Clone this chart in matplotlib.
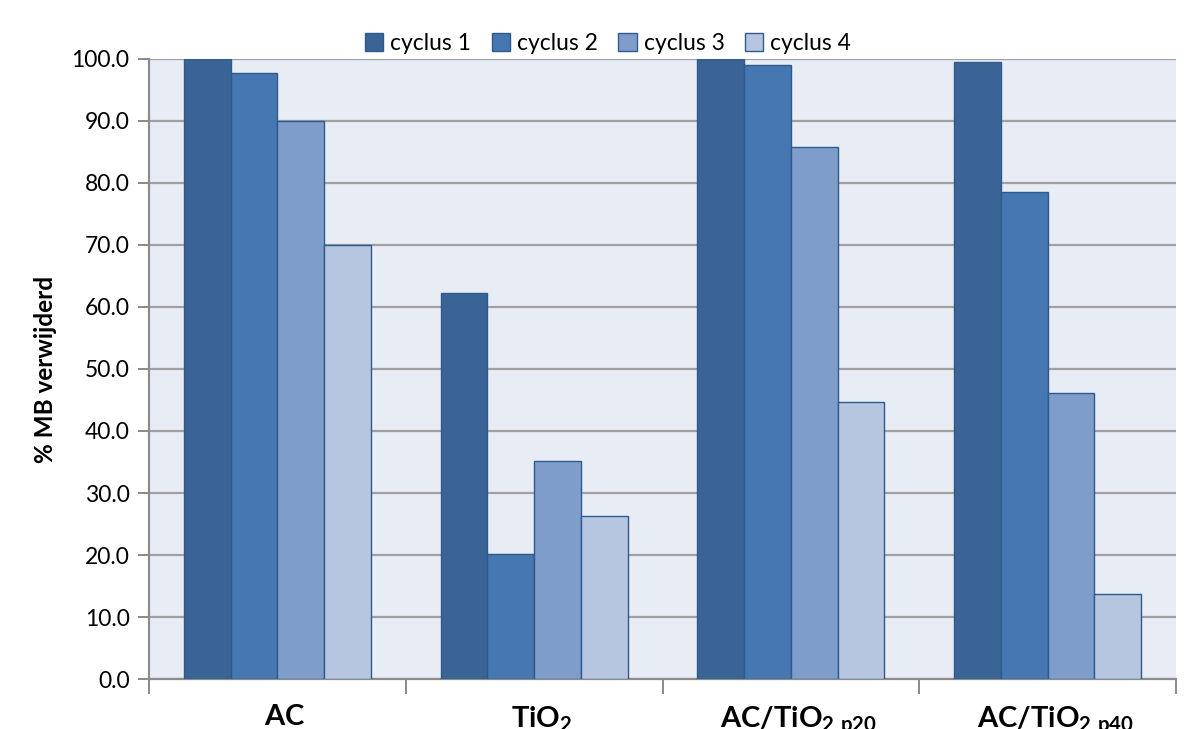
import numpy as np
import matplotlib
matplotlib.use("Agg")
import matplotlib.pyplot as plt

# data
categories = [r"$\mathbf{AC}$", r"$\mathbf{TiO_2}$",
              r"$\mathbf{AC/TiO_{2\ p20}}$", r"$\mathbf{AC/TiO_{2\ p40}}$"]
series_names = ["cyclus 1", "cyclus 2", "cyclus 3", "cyclus 4"]
cyclus1 = [100.0, 62.2, 100.0, 99.5]
cyclus2 = [97.8, 20.1, 99.0, 78.5]
cyclus3 = [90.0, 35.1, 85.8, 46.2]
cyclus4 = [70.0, 26.3, 44.7, 13.7]
yticks = [0, 10, 20, 30, 40, 50, 60, 70, 80, 90, 100]

colors = ["#3B6496", "#4677B1", "#7F9DCA", "#B6C5E0"]

plt.rcParams["font.family"] = ["Lato", "DejaVu Sans"]
plt.rcParams["mathtext.fontset"] = "custom"
plt.rcParams["mathtext.rm"] = "Lato"
plt.rcParams["mathtext.bf"] = "Lato:bold"

fig = plt.figure(figsize=(11.88, 7.29), dpi=100)
ax = fig.add_axes([149 / 1188, 50 / 729, (1176 - 149) / 1188, 620 / 729])
ax.set_facecolor("#E8ECF4")

x = np.arange(len(categories))
w = 0.182
data = [cyclus1, cyclus2, cyclus3, cyclus4]
for i, vals in enumerate(data):
    ax.bar(x + (i - 1.5) * w, vals, w, color=colors[i], edgecolor="#2F5A8E",
           linewidth=1.0, label=series_names[i], zorder=3)

ax.set_xlim(-0.5, len(categories) - 0.5)
ax.set_ylim(0, 100)
ax.set_yticks(yticks)
ax.set_yticklabels(["%.1f" % v for v in yticks], fontsize=16.5)
ax.yaxis.grid(True, color="#A0A0A0", linewidth=1.6, zorder=1)
ax.set_axisbelow(True)

# boundaries as major ticks, labels as minor
ax.set_xticks(np.arange(-0.5, len(categories), 1.0))
ax.set_xticklabels([])
ax.set_xticks(x + 0.03, minor=True)
ax.set_xticklabels(categories, minor=True, fontsize=21)
ax.tick_params(axis="x", which="minor", length=0, pad=18)
ax.tick_params(axis="x", which="major", length=11, width=1.3, color="#808080")
ax.tick_params(axis="y", length=8, width=1.3, color="#808080", pad=6)

for s in ["top", "right"]:
    ax.spines[s].set_visible(False)
for s in ["left", "bottom"]:
    ax.spines[s].set_color("#8C8C8C")
    ax.spines[s].set_linewidth(1.6)

ax.set_ylabel("% MB verwijderd", fontsize=17.5, fontweight="bold")
ax.yaxis.set_label_coords(-0.09, 0.5)

ax.legend(loc="lower center", bbox_to_anchor=(0.447, 0.993), ncol=4, frameon=False,
          fontsize=16.5, handlelength=0.8, handleheight=0.8, handletextpad=0.3,
          columnspacing=0.9, borderaxespad=0.0)

fig.savefig("out.png", dpi=100)
